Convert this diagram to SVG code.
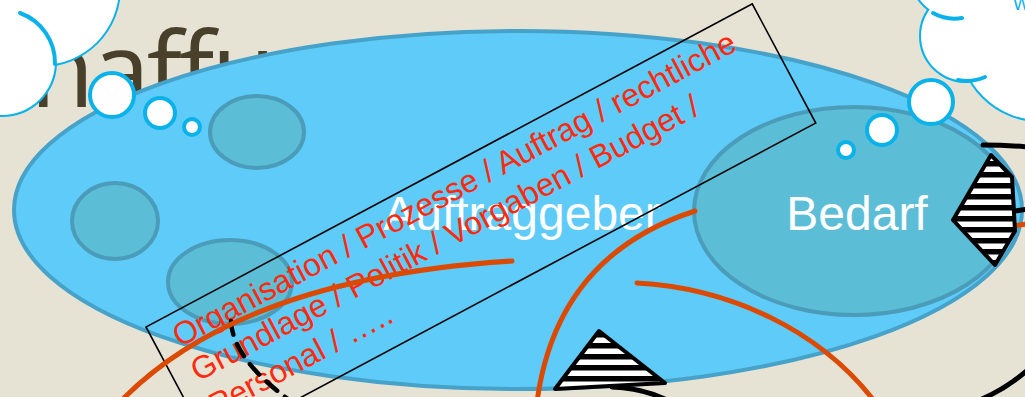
<svg xmlns="http://www.w3.org/2000/svg" width="1025" height="397" viewBox="0 0 1025 397">
<style>
.big{fill:#5FCBF9;stroke:#47A2C9;stroke-width:4}
.inner{fill:#5BBDD6;stroke:#4A9CB9;stroke-width:4}
.lbl{font-family:"Liberation Sans",Arial,sans-serif;font-size:48px;fill:#FFFFFF;text-anchor:middle}
.red{font-family:"Liberation Sans",Arial,sans-serif;font-size:32px;fill:#FF2A0D}
.org{fill:none;stroke:#DB4A00;stroke-width:5;stroke-linecap:round}
.blk{fill:none;stroke:#000;stroke-width:5;stroke-linecap:round}
.bub{fill:#FFFFFF;stroke:#0BB2EA;stroke-width:4}
.cs{fill:none;stroke:#0BB2EA;stroke-width:4;stroke-linecap:round}
.cf{fill:#FFFFFF}
.tri{stroke:#000;stroke-width:4;stroke-linejoin:round}
</style>
<defs>
<pattern id="st1" width="10" height="11" y="2" patternUnits="userSpaceOnUse"><rect width="10" height="11" fill="#FFF"/><rect width="10" height="5.5" fill="#000"/></pattern>
<pattern id="st2" width="10" height="11" y="7" patternUnits="userSpaceOnUse"><rect width="10" height="11" fill="#FFF"/><rect width="10" height="5.5" fill="#000"/></pattern>
</defs>
<rect width="1025" height="397" fill="#E6E3D5"/>
<text x="30" y="107" font-family="'Open Sans',sans-serif" font-size="105" letter-spacing="-3" fill="#48402B">haffung</text>

<g id="auftraggeber">
<ellipse class="big" cx="518" cy="210" rx="504" ry="179"/>
<ellipse class="inner" cx="257" cy="132" rx="47" ry="36"/>
<ellipse class="inner" cx="115" cy="221" rx="43" ry="38"/>
<ellipse class="inner" cx="230" cy="282" rx="62" ry="42"/>
<text class="lbl" x="522" y="230">Auftraggeber</text>
</g>
<g id="bedarf">
<ellipse class="inner" cx="854" cy="211" rx="160" ry="104"/>
<text class="lbl" x="857" y="230">Bedarf</text>
</g>

<g id="textbox" transform="translate(146,327) rotate(-28.06)">
<rect x="0" y="0" width="687" height="135" fill="none" stroke="#000" stroke-width="1.6"/>
<text class="red" x="20" y="34">Organisation / Prozesse / Auftrag / rechtliche</text>
<text class="red" x="20" y="73">Grundlage / Politik / Vorgaben / Budget /</text>
<text class="red" x="20" y="112">Personal / …..</text>
</g>

<g id="connectors">
<path d="M231,321 C232,345 250,372 292,402" fill="none" stroke="#000" stroke-width="4.5" stroke-linecap="round" stroke-dasharray="14,10"/>
<path class="org" d="M120,402 C180,340 290,275 512,261"/>
<path class="org" d="M537,402 C548,320 590,245 695,211"/>
<path class="org" d="M637,283 C730,288 820,330 875,402"/>
<path class="org" d="M1013,226 L1027,224"/>
<path class="blk" d="M983,145 Q1005,145 1028,147"/>
<path class="blk" d="M1015,211 L1028,209"/>
<path class="blk" d="M612,387 Q642,388 667,400"/>
<path class="blk" d="M975,402 Q1005,390 1030,368"/>
</g>

<g id="triangle-bottom">
<polygon class="tri" points="599,331 555,389 665,383" fill="url(#st1)"/>
</g>
<g id="triangle-right">
<polygon class="tri" points="991,155 1012,177 1015,231 995,265 953,220" fill="url(#st2)"/>
</g>

<g id="cloud-left">
<circle class="cs" cx="2" cy="62" r="53"/>
<circle class="cs" cx="42" cy="-12" r="77"/>
<circle class="cf" cx="2" cy="62" r="53"/>
<circle class="cf" cx="42" cy="-12" r="77"/>
<path class="cs" d="M20,13 A53,53 0 0,1 55,64"/>
<circle class="bub" cx="112" cy="95" r="22"/>
<circle class="bub" cx="160" cy="113" r="15"/>
<circle class="bub" cx="192" cy="127" r="8"/>
</g>

<g id="cloud-right">
<circle class="cs" cx="956" cy="-27" r="45"/>
<circle class="cs" cx="966" cy="36" r="45"/>
<circle class="cs" cx="1040" cy="40" r="80"/>
<circle class="cf" cx="956" cy="-27" r="45"/>
<circle class="cf" cx="966" cy="36" r="45"/>
<circle class="cf" cx="1040" cy="40" r="80"/>
<path class="cs" d="M933,13 A45,45 0 0,0 962,18"/>
<path class="cs" d="M958,80 A45,45 0 0,0 985,77"/>
<text x="1013" y="10" font-family="'Liberation Sans',Arial,sans-serif" font-size="18" fill="#0BB2EA">W</text>
<circle class="bub" cx="931" cy="102" r="22"/>
<circle class="bub" cx="882" cy="130" r="15"/>
<circle class="bub" cx="846" cy="150" r="8"/>
</g>
</svg>
